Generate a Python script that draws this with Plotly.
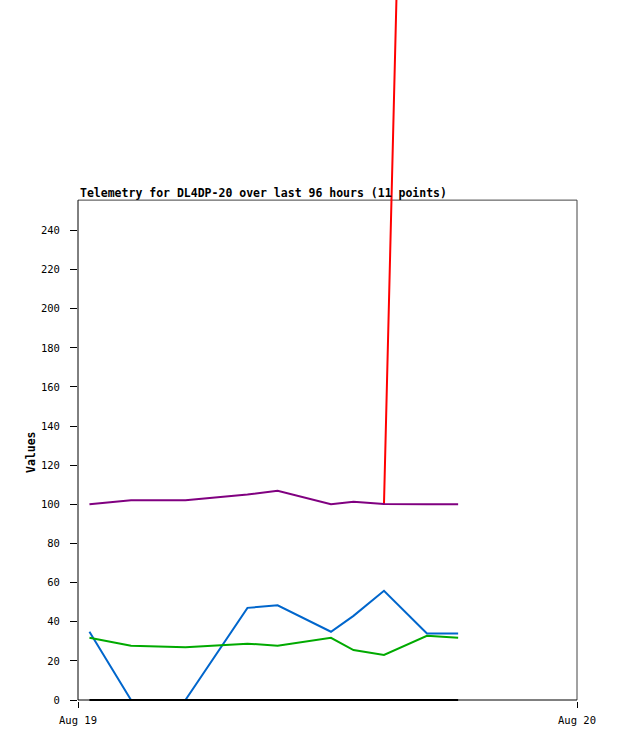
import plotly.graph_objects as go

times = ["2021-08-19 00:33", "2021-08-19 02:33", "2021-08-19 05:10", "2021-08-19 08:09",
         "2021-08-19 09:36", "2021-08-19 12:10", "2021-08-19 13:15", "2021-08-19 14:43",
         "2021-08-19 16:47", "2021-08-19 18:17"]
red_vals = [None, None, None, None, None, None, None, 100.2, 990, 990]
purple_vals = [100.1, 102.1, 102.1, 105.0, 106.9, 100.1, 101.3, 100.2, 100.1, 100.1]
blue_vals = [34.9, 0, 0, 47.1, 48.4, 34.9, 43.0, 55.8, 34.0, 34.0]
green_vals = [31.8, 27.7, 26.9, 28.8, 27.7, 31.8, 25.5, 23.0, 32.8, 31.8]
black_vals = [0, 0, 0, 0, 0, 0, 0, 0, 0, 0]

y_ticks = list(range(0, 241, 20))
x_tick_vals = ["2021-08-19 00:00", "2021-08-20 00:00"]
x_tick_text = ["Aug 19", "Aug 20"]

title_text = "Telemetry for DL4DP-20 over last 96 hours (11 points)"
y_title = "Values"

px_per_unit = 1.9565
plot_h = 701          # plot area from y=0 to y=701; value 0 sits at y=700
below_zero_px = 1
y_top_frame = 255.5

fig = go.Figure()
series = [
    (red_vals, "#ff0000"),
    (purple_vals, "#800080"),
    (blue_vals, "#0066cc"),
    (green_vals, "#00aa00"),
    (black_vals, "#000000"),
]
for vals, col in series:
    fig.add_trace(go.Scatter(x=times, y=vals, mode="lines",
                             line=dict(color=col, width=2),
                             connectgaps=False, showlegend=False, hoverinfo="skip"))

mono = "DejaVu Sans Mono"
y_min = -below_zero_px / px_per_unit
y_max = (plot_h - below_zero_px) / px_per_unit


def py(pix_from_top):
    return (plot_h - pix_from_top) / plot_h


fig.update_layout(
    width=618, height=741,
    margin=dict(l=78, r=41, t=0, b=741 - plot_h, pad=0),
    paper_bgcolor="white", plot_bgcolor="white",
    showlegend=False,
    xaxis=dict(type="date", range=["2021-08-19 00:00", "2021-08-20 00:00"],
               tickvals=x_tick_vals, ticktext=x_tick_text,
               ticks="outside", ticklen=6, tickwidth=1, tickcolor="black",
               showgrid=False, zeroline=False, showline=False,
               tickfont=dict(family=mono, size=10.5, color="black"),
               ticklabelstandoff=3, fixedrange=True),
    yaxis=dict(range=[y_min, y_max], tickvals=y_ticks,
               ticks="outside", ticklen=7, tickwidth=1, tickcolor="black",
               showgrid=False, zeroline=False, showline=False,
               tickfont=dict(family=mono, size=10.5, color="black"),
               ticklabelstandoff=8, fixedrange=True),
    shapes=[
        dict(type="line", xref="paper", yref="y", x0=0, x1=1, y0=y_top_frame, y1=y_top_frame,
             line=dict(color="#444444", width=1), layer="below"),
        dict(type="line", xref="paper", yref="y", x0=1, x1=1, y0=0, y1=y_top_frame,
             line=dict(color="#444444", width=1), layer="below"),
        dict(type="line", xref="paper", yref="y", x0=0, x1=0, y0=0, y1=y_top_frame,
             line=dict(color="black", width=1), layer="below"),
        dict(type="line", xref="paper", yref="y", x0=0, x1=1, y0=0, y1=0,
             line=dict(color="black", width=1), layer="below"),
    ],
    annotations=[
        dict(text="<b>" + title_text + "</b>", xref="paper", yref="paper",
             x=0, y=py(193), xanchor="left", yanchor="middle",
             showarrow=False, font=dict(family=mono, size=11.5, color="black")),
        dict(text="<b>" + y_title + "</b>", xref="paper", yref="paper",
             x=(31 - 78) / 499, y=py(452), xanchor="center", yanchor="middle",
             textangle=-90, showarrow=False, font=dict(family=mono, size=11.5, color="black")),
    ],
)

fig.write_html("out.html", config={"displayModeBar": False},
               post_script="document.body.style.margin='0';document.body.style.overflow='hidden';")
